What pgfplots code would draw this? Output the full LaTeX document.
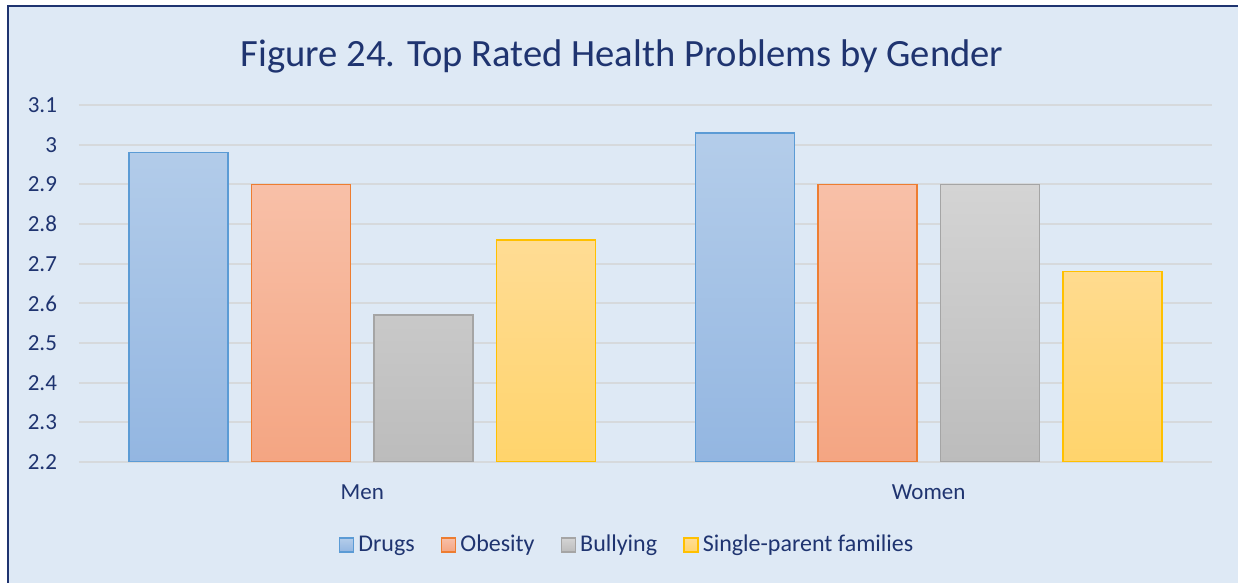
\documentclass[border=0pt]{standalone}
\usepackage{fontspec}
\setmainfont{Carlito}
\usepackage{pgfplots}
\pgfplotsset{compat=1.18}
\definecolor{bg}{HTML}{DEE9F5}
\definecolor{navy}{HTML}{1F3470}
\definecolor{gridc}{HTML}{D6D9DC}
\definecolor{drB}{HTML}{5B9BD5}\definecolor{drT}{HTML}{B4CDEA}\definecolor{drL}{HTML}{93B6E1}
\definecolor{obB}{HTML}{ED7D31}\definecolor{obT}{HTML}{F8C0A8}\definecolor{obL}{HTML}{F4A582}
\definecolor{buB}{HTML}{A5A5A5}\definecolor{buT}{HTML}{D4D4D4}\definecolor{buL}{HTML}{BCBCBC}
\definecolor{siB}{HTML}{FFC000}\definecolor{siT}{HTML}{FFDC94}\definecolor{siL}{HTML}{FFD46C}
\begin{document}
\begin{tikzpicture}
\path[use as bounding box, fill=white] (-39.5pt,-60.5pt) rectangle (579.5pt,231pt);
\fill[bg] (-35.5pt,-60.5pt) rectangle (579.5pt,228pt);
\draw[navy, line width=1.1pt] (-35.5pt,-60.5pt) -- (-35.5pt,228pt) -- (579.5pt,228pt);
\node[navy, font=\fontsize{19.3}{23}\selectfont] at (271.5pt,203pt) {Figure 24. Top Rated Health Problems by Gender};
\begin{axis}[
  at={(0,0)}, anchor=south west, scale only axis,
  width=566.5pt, height=178.5pt,
  xmin=-0.5, xmax=1.5, ymin=2.2, ymax=3.1,
  ytick={2.2,2.3,2.4,2.5,2.6,2.7,2.8,2.9,3.0,3.1},
  yticklabels={2.2,2.3,2.4,2.5,2.6,2.7,2.8,2.9,3,3.1},
  xtick={0,1}, xticklabels={Men,Women},
  ybar=11.75pt, bar width=49.5pt,
  ymajorgrids, grid style={color=gridc, line width=0.9pt},
  axis line style={draw=none}, major tick length=0pt,
  tick label style={font=\fontsize{11.5}{13}\selectfont, text=navy},
  yticklabel style={xshift=-7.5pt},
  xticklabel style={yshift=-8pt},
  legend style={at={(0.4846,-0.2325)}, anchor=center, legend columns=-1, draw=none, fill=none,
    font=\fontsize{12}{14}\selectfont, text=navy,
    /tikz/every even column/.append style={column sep=11pt}},
  legend image code/.code={\draw[#1] (0pt,-3.5pt) rectangle (7pt,3.5pt);},
]
\addplot[draw=drB, line width=0.8pt, top color=drT, bottom color=drL] coordinates {(0,2.98) (1,3.03)};
\addplot[draw=obB, line width=0.8pt, top color=obT, bottom color=obL] coordinates {(0,2.90) (1,2.90)};
\addplot[draw=buB, line width=0.8pt, top color=buT, bottom color=buL] coordinates {(0,2.57) (1,2.90)};
\addplot[draw=siB, line width=0.8pt, top color=siT, bottom color=siL] coordinates {(0,2.76) (1,2.68)};
\legend{Drugs,Obesity,Bullying,Single-parent families}
\end{axis}
\end{tikzpicture}
\end{document}
